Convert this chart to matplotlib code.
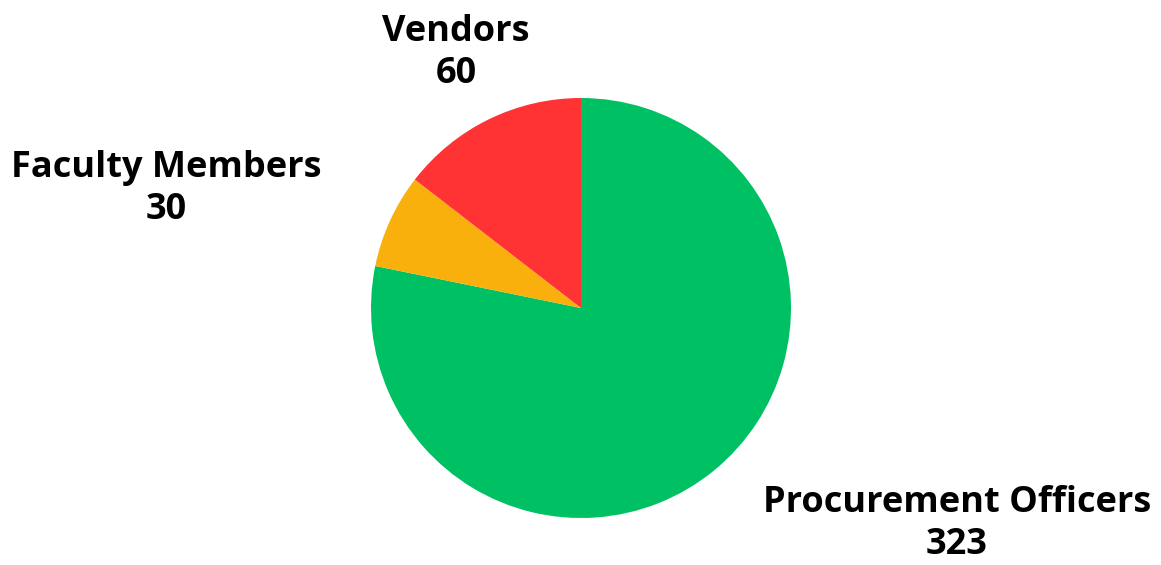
import matplotlib
matplotlib.use("Agg")
import matplotlib.pyplot as plt

labels = ["Procurement Officers", "Faculty Members", "Vendors"]
values = [323, 30, 60]
colors = ["#00C064", "#F9B00C", "#FF3333"]

# label baselines (figure pixels, from top-left), one per slice
label_xy = [(957, 512), (166, 177), (456, 41)]

W, H = 1161, 565
fig = plt.figure(figsize=(W / 100, H / 100), dpi=100)

# pie axes placed so the circle is centred at (581, 308) px with radius 210 px
cx, cy, r = 581, 308, 210
ax = fig.add_axes([(cx - r) / W, (H - cy - r) / H, 2 * r / W, 2 * r / H])
ax.pie(values, colors=colors, startangle=90, counterclock=False,
       radius=1, wedgeprops=dict(linewidth=0))
ax.set_xlim(-1, 1)
ax.set_ylim(-1, 1)
ax.set_aspect("equal")
ax.axis("off")

for lab, val, (x, y) in zip(labels, values, label_xy):
    fig.text(x / W, 1 - y / H, lab, ha="center", va="baseline",
             fontsize=26, fontweight="bold", family="Open Sans")
    fig.text(x / W, 1 - (y + 42) / H, str(val), ha="center", va="baseline",
             fontsize=26, fontweight="bold", family="Open Sans")

fig.savefig("out.png", dpi=100)
